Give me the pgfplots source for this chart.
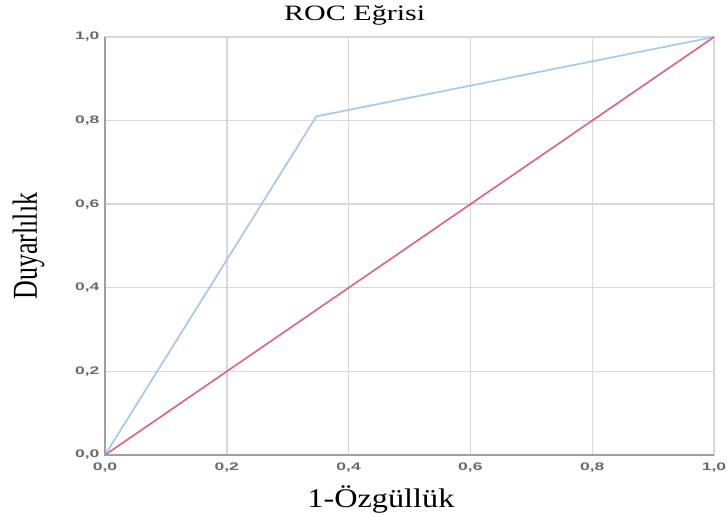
\documentclass[border=0pt]{standalone}
\usepackage{pgfplots}
\pgfplotsset{compat=1.18}
\usepackage{fontspec}
\setmainfont{Liberation Serif}
\newfontfamily\tickfont[FakeStretch=1.6]{Liberation Sans}
\newfontfamily\titlefont[FakeStretch=1.37]{Liberation Serif}
\newfontfamily\xlabfont[FakeStretch=1.2]{Liberation Serif}
\definecolor{rocblue}{HTML}{A6C8EE}
\definecolor{rocred}{HTML}{E0607E}
\definecolor{gridgray}{HTML}{D8D8D8}
\definecolor{axgray}{HTML}{A0A0A0}
\definecolor{ticktext}{HTML}{6A6A6A}
\begin{document}
\begin{tikzpicture}
\begin{axis}[
  name=ax,
  scale only axis,
  width=609bp, height=418bp,
  xmin=0, xmax=1, ymin=0, ymax=1,
  xtick={0,0.2,0.4,0.6,0.8,1.0},
  ytick={0,0.2,0.4,0.6,0.8,1.0},
  xticklabels={{0,0},{0,2},{0,4},{0,6},{0,8},{1,0}},
  yticklabels={{0,0},{0,2},{0,4},{0,6},{0,8},{1,0}},
  tick style={draw=none},
  ticklabel style={font=\tickfont\fontsize{11}{12}\selectfont\bfseries, text=ticktext},
  xticklabel style={yshift=-4bp},
  yticklabel style={xshift=-2bp},
  grid=major,
  major grid style={draw=gridgray, line width=1.4bp},
  axis line style={draw=gridgray, line width=1.4bp},
  title={\titlefont\fontsize{22}{24}\selectfont ROC Eğrisi},
  title style={at={(axis description cs:0.41,1)}, anchor=base, yshift=11bp, inner sep=0pt},
  xlabel={\xlabfont\fontsize{27}{29}\selectfont 1-Özgüllük},
  xlabel style={at={(axis description cs:0.453,0)}, anchor=base, yshift=-52bp, inner sep=0pt},
  ylabel={\scalebox{1}[1.35]{\fontsize{26}{28}\selectfont Duyarlılık}},
  ylabel style={at={(axis description cs:-0.1117,0.5)}, anchor=base, inner sep=0pt},
  clip=false,
]
\addplot[draw=rocblue, line width=1.7bp] coordinates {(0,0) (0.347,0.810) (1,1)};
\addplot[draw=rocred, line width=1.6bp] coordinates {(0,0) (1,1)};
\draw[axgray, line width=1.4bp] (rel axis cs:0,1) -- (rel axis cs:0,0) -- (rel axis cs:1,0);
\end{axis}
\pgfresetboundingbox
\path[use as bounding box] ([shift={(-105bp,-61bp)}]ax.south west) rectangle ([shift={(13bp,37bp)}]ax.north east);
\end{tikzpicture}
\end{document}
